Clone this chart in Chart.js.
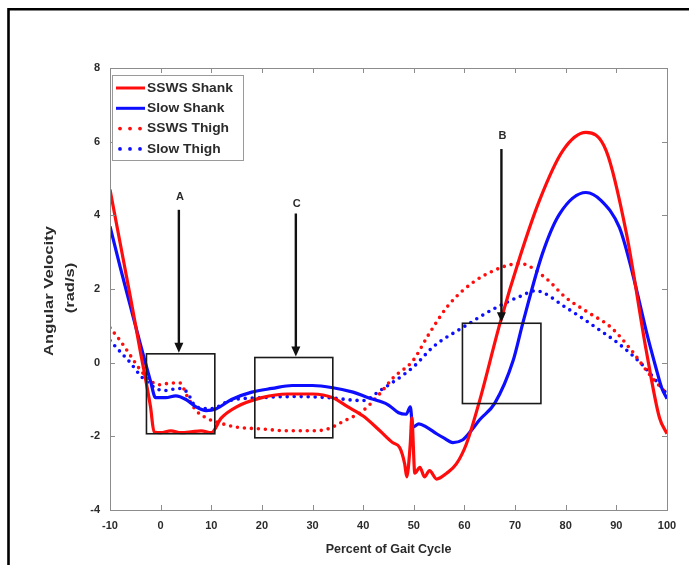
<!DOCTYPE html>
<html>
<head>
<meta charset="utf-8">
<script src="https://cdn.jsdelivr.net/npm/chart.js@4.4.1/dist/chart.umd.min.js"></script>
<style>
  html, body { margin: 0; padding: 0; background: #fff; }
  #wrap { width: 689px; height: 565px; position: relative; }
</style>
</head>
<body>
<div id="wrap"><canvas id="gait-chart" width="689" height="565"></canvas></div>
<script>
// Angular velocity over the gait cycle (shank and thigh, SSWS vs slow walking)
const sswsShankX = [-10, -8, -6, -4, -2, -1.3, 0, 2, 4, 6, 8, 10, 12, 15, 20, 25, 30, 34, 37, 40, 43.3, 45.8, 47.2, 48.2, 48.6, 49.3, 49.6, 50.2, 51.2, 52.1, 53.1, 54.5, 56.5, 58.4, 60.4, 63, 67, 70.9, 74.8, 79.4, 84, 88, 92, 95.9, 98.5, 100];
const sswsShankY = [4.7, 3.25, 1.8, 0.3, -1.2, -1.88, -1.9, -1.85, -1.9, -1.88, -1.85, -1.9, -1.5, -1.2, -0.95, -0.85, -0.85, -0.95, -1.2, -1.45, -1.85, -2.17, -2.3, -2.75, -3.1, -2.2, -1.5, -3.0, -2.84, -3.1, -2.93, -3.16, -3.0, -2.75, -2.2, -1.03, 1.06, 2.85, 4.4, 5.75, 6.25, 5.75, 3.5, 0.33, -1.49, -1.93];

const slowShankX = [-10, -8, -6, -4, -2, -1, 1, 3, 5, 7, 9, 11, 14, 18, 22, 26, 30, 34, 38, 41, 43.3, 45, 47, 48.5, 49.3, 49.8, 51, 52.5, 54.5, 56, 57.7, 59.6, 61, 63, 66, 69.6, 71.5, 75.4, 78.8, 84, 87, 90.6, 92.5, 94.5, 96, 97.8, 99, 100];
const slowShankY = [3.7, 2.6, 1.55, 0.5, -0.5, -0.95, -0.95, -0.9, -1.0, -1.2, -1.3, -1.25, -1.0, -0.8, -0.7, -0.62, -0.62, -0.68, -0.8, -0.95, -1.05, -1.15, -1.36, -1.4, -1.2, -1.75, -1.66, -1.75, -1.93, -2.05, -2.17, -2.1, -1.9, -1.55, -1.1, 0.05, 1.06, 2.96, 4.04, 4.62, 4.4, 3.67, 2.8, 1.68, 0.8, -0.13, -0.7, -0.98];

const sswsThighX = [-10, -8, -6, -4, -2, 0, 2, 3.8, 5.2, 7, 9, 12, 15, 20, 25, 30, 33, 36, 40, 43.3, 46, 49.8, 53, 56.5, 59.6, 64.3, 71, 76, 80, 84, 89, 93, 97, 100];
const sswsThighY = [0.95, 0.6, 0.2, -0.2, -0.5, -0.6, -0.55, -0.55, -0.9, -1.3, -1.5, -1.65, -1.75, -1.8, -1.85, -1.85, -1.8, -1.6, -1.3, -0.84, -0.4, 0.05, 0.78, 1.5, 1.95, 2.4, 2.69, 2.3, 1.77, 1.4, 0.95, 0.33, -0.4, -0.85];

const slowThighX = [-10, -8, -6, -4, -2, 0.5, 3.8, 5.2, 7, 10, 13.7, 20, 27, 33, 40, 43.3, 49.8, 54, 59.6, 66.3, 71, 74, 80, 86, 90.6, 95, 100];
const slowThighY = [0.6, 0.3, 0.0, -0.35, -0.6, -0.76, -0.7, -0.8, -1.2, -1.25, -1.03, -0.95, -0.92, -0.95, -1.03, -0.76, -0.13, 0.45, 0.95, 1.5, 1.8, 1.95, 1.5, 0.95, 0.5, -0.04, -0.85];

const seriesLabels = ['SSWS Shank', 'Slow Shank', 'SSWS Thigh', 'Slow Thigh'];

// highlighted regions and their arrows
const regionLabels = ['A', 'C', 'B'];
const regionXFrom = [-2.8, 18.6, 59.6];
const regionXTo = [10.7, 34.0, 75.1];
const regionYTop = [0.24, 0.14, 1.07];
const regionYBottom = [-1.93, -2.04, -1.11];
const arrowX = [3.6, 26.7, 67.3];
const arrowYStart = [4.15, 4.05, 5.8];
const labelY = [4.5, 4.3, 6.15];

const xTicks = [-10, 0, 10, 20, 30, 40, 50, 60, 70, 80, 90, 100];
const yTicks = [-4, -2, 0, 2, 4, 6, 8];
const yTitleLines = ['Angular Velocity', '(rad/s)'];

const RED = '#ff0d0d';
const BLUE = '#0d0dff';
const FONT = 'Liberation Sans, Arial, sans-serif';
const TEXT = '#2b2b2b';
const AXIS = '#8c8c8c';

function toPoints(xs, ys) {
  return xs.map((x, i) => ({ x: x, y: ys[i] }));
}

// white page with a black frame on the top and left
const framePlugin = {
  id: 'frame',
  beforeDraw(chart) {
    const ctx = chart.ctx;
    ctx.save();
    ctx.fillStyle = '#fff';
    ctx.fillRect(0, 0, chart.width, chart.height);
    ctx.strokeStyle = '#000';
    ctx.lineWidth = 2.6;
    ctx.beginPath();
    ctx.moveTo(8.5, chart.height);
    ctx.lineTo(8.5, 9.3);
    ctx.lineTo(chart.width, 9.3);
    ctx.stroke();
    ctx.restore();
  }
};

// axis box with inward tick marks, plus the stretched y axis title
const boxPlugin = {
  id: 'axisBox',
  afterDatasetsDraw(chart) {
    const ctx = chart.ctx;
    const a = chart.chartArea;
    const xs = chart.scales.x;
    const ys = chart.scales.y;
    ctx.save();
    ctx.strokeStyle = AXIS;
    ctx.lineWidth = 1;
    ctx.strokeRect(a.left + 0.5, a.top + 0.5, a.right - a.left, a.bottom - a.top);
    ctx.beginPath();
    xTicks.forEach(v => {
      const px = Math.round(xs.getPixelForValue(v)) + 0.5;
      ctx.moveTo(px, a.bottom); ctx.lineTo(px, a.bottom - 5);
      ctx.moveTo(px, a.top); ctx.lineTo(px, a.top + 5);
    });
    yTicks.forEach(v => {
      const py = Math.round(ys.getPixelForValue(v)) + 0.5;
      ctx.moveTo(a.left, py); ctx.lineTo(a.left + 5, py);
      ctx.moveTo(a.right, py); ctx.lineTo(a.right - 5, py);
    });
    ctx.stroke();

    const midY = (a.top + a.bottom) / 2;
    ctx.font = 'bold 12px ' + FONT;
    ctx.fillStyle = TEXT;
    ctx.textAlign = 'center';
    ctx.textBaseline = 'middle';
    yTitleLines.forEach((line, i) => {
      ctx.save();
      ctx.translate(50 + i * 20.5, midY + 2 - i * 3);
      ctx.rotate(-Math.PI / 2);
      ctx.scale(1.38, 1);
      ctx.fillText(line, 0, 0);
      ctx.restore();
    });
    ctx.restore();
  }
};

// rectangles and downward arrows marking regions A, B, C
const regionPlugin = {
  id: 'regions',
  afterDatasetsDraw(chart) {
    const ctx = chart.ctx;
    const xs = chart.scales.x;
    const ys = chart.scales.y;
    ctx.save();
    regionLabels.forEach((label, i) => {
      const x0 = xs.getPixelForValue(regionXFrom[i]);
      const x1 = xs.getPixelForValue(regionXTo[i]);
      const y0 = ys.getPixelForValue(regionYTop[i]);
      const y1 = ys.getPixelForValue(regionYBottom[i]);
      ctx.strokeStyle = '#1a1a1a';
      ctx.lineWidth = 1.6;
      ctx.strokeRect(x0, y0, x1 - x0, y1 - y0);

      const ax = xs.getPixelForValue(arrowX[i]);
      const ay0 = ys.getPixelForValue(arrowYStart[i]);
      const tip = y0 - 1;
      ctx.strokeStyle = '#111';
      ctx.lineWidth = 2.4;
      ctx.beginPath();
      ctx.moveTo(ax, ay0);
      ctx.lineTo(ax, tip - 8);
      ctx.stroke();
      ctx.fillStyle = '#111';
      ctx.beginPath();
      ctx.moveTo(ax - 4.5, tip - 10);
      ctx.lineTo(ax + 4.5, tip - 10);
      ctx.lineTo(ax, tip);
      ctx.closePath();
      ctx.fill();

      ctx.font = 'bold 11px ' + FONT;
      ctx.fillStyle = TEXT;
      ctx.textAlign = 'center';
      ctx.textBaseline = 'middle';
      ctx.fillText(label, ax + 1, ys.getPixelForValue(labelY[i]));
    });
    ctx.restore();
  }
};

// legend in the upper left corner of the axes
const legendPlugin = {
  id: 'cornerLegend',
  afterDraw(chart) {
    const ctx = chart.ctx;
    const a = chart.chartArea;
    const left = a.left + 2;
    const top = a.top + 7;
    ctx.save();
    ctx.fillStyle = '#fff';
    ctx.fillRect(left, top, 131, 85);
    ctx.strokeStyle = '#9a9a9a';
    ctx.lineWidth = 1;
    ctx.strokeRect(left + 0.5, top + 0.5, 131, 85);
    chart.data.datasets.forEach((ds, i) => {
      const cy = top + 13 + i * 20.3;
      ctx.strokeStyle = ds.borderColor;
      ctx.fillStyle = ds.borderColor;
      if (ds.borderDash && ds.borderDash.length) {
        [0, 1, 2].forEach(k => {
          ctx.beginPath();
          ctx.arc(left + 8 + k * 10, cy, 1.9, 0, Math.PI * 2);
          ctx.fill();
        });
      } else {
        ctx.lineWidth = 3;
        ctx.beginPath();
        ctx.moveTo(left + 4, cy);
        ctx.lineTo(left + 33, cy);
        ctx.stroke();
      }
      ctx.font = 'bold 12px ' + FONT;
      ctx.fillStyle = TEXT;
      ctx.textAlign = 'left';
      ctx.textBaseline = 'middle';
      ctx.save();
      ctx.translate(left + 35, cy + 0.5);
      ctx.scale(1.15, 1);
      ctx.fillText(ds.label, 0, 0);
      ctx.restore();
    });
    ctx.restore();
  }
};

function lineSet(label, xs, ys, color, dotted) {
  return {
    label: label,
    data: toPoints(xs, ys),
    borderColor: color,
    backgroundColor: color,
    borderWidth: dotted ? 3.6 : 3.2,
    borderDash: dotted ? [0, 7] : [],
    borderCapStyle: dotted ? 'round' : 'butt',
    borderJoinStyle: 'round',
    pointRadius: 0,
    cubicInterpolationMode: 'monotone',
    fill: false
  };
}

document.addEventListener('DOMContentLoaded', function() {
  const ctx = document.getElementById('gait-chart').getContext('2d');
  new Chart(ctx, {
    type: 'line',
    data: {
      datasets: [
        lineSet(seriesLabels[0], sswsShankX, sswsShankY, RED, false),
        lineSet(seriesLabels[1], slowShankX, slowShankY, BLUE, false),
        lineSet(seriesLabels[2], sswsThighX, sswsThighY, RED, true),
        lineSet(seriesLabels[3], slowThighX, slowThighY, BLUE, true)
      ]
    },
    options: {
      responsive: false,
      animation: false,
      layout: { padding: { left: 10, right: 22, top: 68, bottom: 0 } },
      plugins: {
        legend: { display: false },
        tooltip: { enabled: false }
      },
      scales: {
        x: {
          type: 'linear',
          min: -10,
          max: 100,
          afterBuildTicks: scale => { scale.ticks = xTicks.map(v => ({ value: v })); },
          afterFit: scale => { scale.height = 55; },
          grid: { drawOnChartArea: false, drawTicks: false },
          border: { display: false },
          ticks: {
            padding: 9,
            color: TEXT,
            font: { family: FONT, size: 11, weight: 'bold' }
          },
          title: {
            display: true,
            text: 'Percent of Gait Cycle',
            color: TEXT,
            font: { family: FONT, size: 12.5, weight: 'bold' },
            padding: { top: 0, bottom: 8 }
          }
        },
        y: {
          type: 'linear',
          min: -4,
          max: 8,
          afterBuildTicks: scale => { scale.ticks = yTicks.map(v => ({ value: v })); },
          afterFit: scale => { scale.width = 100; },
          grid: { drawOnChartArea: false, drawTicks: false },
          border: { display: false },
          ticks: {
            padding: 10,
            color: TEXT,
            font: { family: FONT, size: 11, weight: 'bold' }
          },
          title: { display: false }
        }
      }
    },
    plugins: [framePlugin, boxPlugin, regionPlugin, legendPlugin]
  });
});
</script>
</body>
</html>
